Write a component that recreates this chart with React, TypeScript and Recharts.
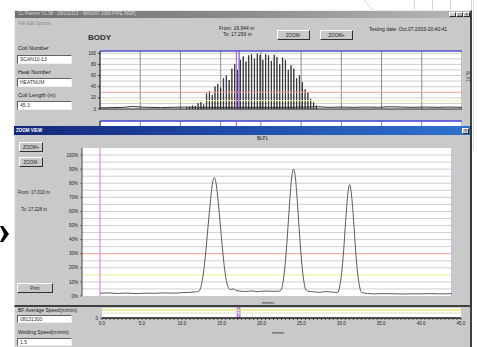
import React from 'react';
import {
  ComposedChart,
  LineChart,
  Line,
  Bar,
  XAxis,
  YAxis,
  CartesianGrid,
  ReferenceLine,
  ReferenceArea,
} from 'recharts';

// ---- data ----
const markerFrom = 16.944;
const markerTo = 17.293;

const lengthTicks = [0, 5, 10, 15, 20, 25, 30, 35, 40, 45];
const bodyYTicks = [0, 20, 40, 60, 80, 100];
const bodyGridY = [10, 20, 40, 50, 60, 70, 80, 90, 100];

// spikes in the BODY overview (position m, BLP1 level)
const spikePos = [
  10.8, 11.15, 11.5, 11.85, 12.2, 12.55, 12.9, 13.25, 13.6, 13.95, 14.3, 14.65, 15.0, 15.35, 15.7, 16.05,
  16.4, 16.75, 17.1, 17.45, 17.8, 18.15, 18.5, 18.85, 19.2, 19.55, 19.9, 20.25, 20.6, 20.95, 21.3, 21.65,
  22.0, 22.35, 22.7, 23.05, 23.4, 23.75, 24.1, 24.45, 24.8, 25.15, 25.5, 25.85, 26.2, 26.55, 26.9,
];
const spikeVal = [
  3, 4, 6, 5, 10, 12, 8, 28, 32, 25, 40, 45, 38, 55, 60, 52,
  72, 80, 70, 88, 94, 85, 96, 98, 90, 99, 97, 88, 98, 96, 86, 97,
  93, 80, 92, 88, 70, 78, 72, 55, 60, 48, 35, 30, 18, 12, 6,
];

// low background trace of the BODY overview
const bodyBasePos = [0, 1.5, 3, 4, 5, 6, 7.5, 9, 10.5, 12, 15, 18, 21, 24, 27, 28.5, 30, 31.5, 33, 34.5, 36, 37.5, 39, 40.5, 42, 43.5, 45];
const bodyBaseVal = [2, 2.5, 3, 4.5, 3.5, 3, 2.5, 3, 3.5, 3, 3, 3, 3, 3, 4, 3, 3.5, 3, 3.5, 3, 4, 3.5, 3, 3.5, 3, 3.5, 3];

// ZOOM VIEW trace (position m, BLP1 %)
const zoomPos = [
  17.0117, 17.017, 17.023, 17.029, 17.035, 17.041, 17.047, 17.053, 17.059, 17.065, 17.07, 17.0735,
  17.0754, 17.0767, 17.078, 17.0793, 17.0806, 17.0819, 17.0832, 17.0845, 17.0858, 17.0871, 17.0884,
  17.0897, 17.091, 17.0923, 17.0936, 17.0949, 17.0962, 17.098, 17.1, 17.102, 17.106, 17.11, 17.114,
  17.118, 17.122, 17.126, 17.1281, 17.1294, 17.1307, 17.132, 17.1333, 17.1346, 17.1359, 17.1372,
  17.1385, 17.1398, 17.1411, 17.1424, 17.1437, 17.145, 17.1463, 17.15, 17.154, 17.158, 17.162,
  17.1658, 17.1671, 17.1684, 17.1697, 17.171, 17.1723, 17.1736, 17.1749, 17.1762, 17.1775, 17.1788,
  17.1801, 17.1814, 17.185, 17.19, 17.196, 17.202, 17.208, 17.214, 17.22, 17.226, 17.232, 17.24,
];
const zoomVal = [
  2.0, 2.2, 1.8, 2.1, 1.7, 2.0, 1.9, 2.2, 2.0, 2.4, 2.6, 2.9,
  3.2, 5, 11, 21, 35, 51, 66, 79, 84, 79, 66,
  51, 35, 21, 11, 6, 4.5, 5, 4, 3.5, 3.2, 3.6, 3.1,
  3.5, 3.4, 3.3, 3.5, 5, 12, 25, 44, 65, 83, 90,
  83, 65, 44, 25, 12, 5, 3.5, 3.0, 2.6, 3.1, 2.8,
  2.5, 6.5, 16, 32, 53, 71, 79, 71, 53, 32, 16,
  6.5, 2.5, 1.8, 1.5, 1.7, 1.6, 1.4, 1.6, 1.5, 1.7, 1.5, 1.6,
];
const pctTicks = [0, 10, 20, 30, 40, 50, 60, 70, 80, 90, 100];
const pctGrid = [5, 10, 20, 25, 35, 40, 45, 50, 55, 60, 65, 70, 75, 80, 85, 90, 95, 100];

const redLevel = 30;
const yellowLevel = 15;

const bodyData = [
  ...spikePos.map((x, i) => ({ x, spike: spikeVal[i] })),
  ...bodyBasePos.map((x, i) => ({ x, base: bodyBaseVal[i] })),
].sort((a, b) => a.x - b.x);

const zoomData = zoomPos.map((x, i) => ({ x, v: zoomVal[i] }));
const stripData = [{ x: 0, v: 0 }, { x: 45, v: 0 }];
const stripTicks = Array.from({ length: 91 }, (_, i) => i * 0.5);

const FONT = '"Liberation Sans", Arial, sans-serif';
const GRAY = '#c9c9c9';

const T = ({ x, y, s = 5, bold = false, color = '#1a1a1a', children }: any) => (
  <div
    style={{
      position: 'absolute', left: x, top: y, fontSize: s, lineHeight: 1, whiteSpace: 'nowrap',
      fontWeight: bold ? 700 : 400, color,
    }}
  >
    {children}
  </div>
);

const Btn = ({ x, y, w, h, children }: any) => (
  <div
    style={{
      position: 'absolute', left: x, top: y, width: w, height: h, boxSizing: 'border-box', background: GRAY,
      borderTop: '1px solid #fff', borderLeft: '1px solid #fff', borderRight: '1px solid #303030',
      borderBottom: '1px solid #303030', fontSize: 4.5, display: 'flex', alignItems: 'center',
      justifyContent: 'center', color: '#222',
    }}
  >
    {children}
  </div>
);

const Field = ({ x, y, w = 55, h = 9, children }: any) => (
  <div
    style={{
      position: 'absolute', left: x, top: y, width: w, height: h, boxSizing: 'border-box', background: '#fff',
      borderTop: '1px solid #606060', borderLeft: '1px solid #606060', borderRight: '1px solid #eee',
      borderBottom: '1px solid #eee', fontSize: 5, paddingLeft: 2, lineHeight: `${h - 2}px`, color: '#333',
    }}
  >
    {children}
  </div>
);

const tickStyle = { fontSize: 4.5, fill: '#222', fontFamily: FONT };

export default function App() {
  return (
    <div
      style={{
        position: 'absolute', left: 0, top: 0, width: 477, height: 347, background: '#fff', overflow: 'hidden',
        fontFamily: FONT,
      }}
    >
      {/* page decoration */}
      <div style={{ position: 'absolute', left: 414, top: -2, width: 56, height: 11, border: '1px solid #d6d6d6' }} />
      <div style={{ position: 'absolute', left: 432, top: -2, width: 1, height: 12, background: '#d6d6d6' }} />
      <div style={{ position: 'absolute', left: 450, top: -2, width: 1, height: 12, background: '#d6d6d6' }} />
      <div style={{ position: 'absolute', left: 473, top: 0, width: 1, height: 150, background: '#dcdcdc' }} />
      <div
        style={{
          position: 'absolute', left: 360, top: -4, width: 1, height: 34, background: '#dcdcdc',
          transform: 'rotate(-40deg)', transformOrigin: 'top left',
        }}
      />
      <div
        style={{
          position: 'absolute', left: 0, top: 226, width: 9, height: 16, background: '#000',
          clipPath: 'polygon(0 0, 35% 0, 100% 50%, 35% 100%, 0 100%, 45% 50%)',
        }}
      />

      {/* main window */}
      <div
        style={{
          position: 'absolute', left: 14, top: 10, width: 458, height: 340, background: GRAY,
          boxSizing: 'border-box', borderLeft: '1px solid #eee', borderRight: '2px solid #404040',
          borderTop: '1px solid #eee',
        }}
      />
      <div
        style={{
          position: 'absolute', left: 15, top: 11, width: 455, height: 7,
          background: 'linear-gradient(90deg, #707070, #8c8c8c 50%, #b8b8b8)',
        }}
      />
      <T x={18} y={12} s={4.5} color="#d8d8d8">CL Planner V1.98 - [08131313 - WINSAT 2000 PIPE INSP]</T>
      <Btn x={449} y={12} w={7} h={5}>_</Btn>
      <Btn x={456} y={12} w={7} h={5}>□</Btn>
      <Btn x={463} y={12} w={7} h={5}>×</Btn>
      <T x={18} y={22} s={4.5} color="#8a8a8a">File   Edit   Options</T>

      <T x={88} y={34} s={8} bold color="#333">BODY</T>
      <T x={219} y={26} s={5}>From:  16.944 m</T>
      <T x={223} y={32} s={5}>To:  17.293 m</T>
      <Btn x={277} y={30} w={33} h={10}>ZOOM-</Btn>
      <Btn x={320} y={30} w={33} h={10}>ZOOM+</Btn>
      <T x={369} y={27} s={5}>Testing date:  Oct.07.2003-20:40:41</T>

      <T x={18} y={46} s={5.5}>Coil Number</T>
      <Field x={17} y={55}>SCAN10-13</Field>
      <T x={18} y={70} s={5.5}>Heat Number</T>
      <Field x={17} y={78}>HEATNUM</Field>
      <T x={18} y={93} s={5.5}>Coil Length (m)</T>
      <Field x={17} y={101}>45.3</Field>
      <div style={{ position: 'absolute', left: 462, top: 74, transform: 'rotate(90deg)', fontSize: 4.5, color: '#333' }}>
        BLP1
      </div>

      {/* BODY overview chart */}
      <div style={{ position: 'absolute', left: 70, top: 46 }}>
        <ComposedChart width={392} height={67} data={bodyData} margin={{ top: 5, right: 0, bottom: 4, left: 0 }}>
          <CartesianGrid horizontalValues={bodyGridY} vertical={false} stroke="#cfcfcf" fill="#fff" />
          <CartesianGrid verticalValues={lengthTicks} horizontal={false} stroke="#8c8c8c" />
          <XAxis type="number" dataKey="x" domain={[0, 45]} hide />
          <YAxis
            type="number" domain={[0, 104]} ticks={bodyYTicks} interval={0} width={30} tickSize={2}
            tick={tickStyle} axisLine={{ stroke: '#222' }} tickLine={{ stroke: '#222' }}
          />
          <ReferenceLine y={redLevel} stroke="#f0a0a0" />
          <ReferenceLine y={yellowLevel} stroke="#f0f0b0" />
          <Bar
            dataKey="spike" fill="#141414" stroke="#141414" strokeWidth={0.6} barSize={2}
            isAnimationActive={false}
          />
          <Line dataKey="base" stroke="#303030" strokeWidth={1} dot={false} connectNulls isAnimationActive={false} />
          <ReferenceLine y={104} stroke="#5050d0" strokeWidth={1.5} />
          <ReferenceLine x={markerFrom} stroke="#d040d0" />
          <ReferenceLine x={markerTo} stroke="#4848d0" />
          <ReferenceLine y={0} stroke="#222" />
        </ComposedChart>
      </div>

      {/* second overview strip (mostly hidden) */}
      <div style={{ position: 'absolute', left: 70, top: 116 }}>
        <LineChart width={392} height={22} data={stripData} margin={{ top: 5, right: 0, bottom: 0, left: 0 }}>
          <CartesianGrid horizontal={false} verticalValues={lengthTicks} stroke="#8c8c8c" fill="#fff" />
          <XAxis type="number" dataKey="x" domain={[0, 45]} hide />
          <YAxis
            type="number" domain={[0, 100]} ticks={[100]} width={30} tickSize={2} tick={tickStyle}
            axisLine={{ stroke: '#222' }}
          />
          <Line dataKey="v" stroke="#000" dot={false} isAnimationActive={false} />
          <ReferenceLine y={100} stroke="#4040d0" strokeWidth={1.5} />
          <ReferenceLine x={markerFrom} stroke="#d040d0" />
        </LineChart>
      </div>

      {/* ZOOM VIEW window */}
      <div
        style={{
          position: 'absolute', left: 14, top: 126, width: 458, height: 181, background: GRAY,
          boxSizing: 'border-box', borderRight: '2px solid #383838', borderBottom: '2px solid #404040',
          borderLeft: '1px solid #eee',
        }}
      />
      <div
        style={{
          position: 'absolute', left: 14, top: 126, width: 456, height: 9,
          background: 'linear-gradient(90deg, #14267a, #1f4aa8 45%, #2f72cc)',
        }}
      />
      <T x={16} y={128.5} s={4.5} bold color="#fff">ZOOM VIEW</T>
      <Btn x={462} y={127.5} w={7} h={6}>×</Btn>
      <Btn x={19} y={142} w={24} h={10}>ZOOM+</Btn>
      <Btn x={19} y={157} w={24} h={10}>ZOOM-</Btn>
      <T x={18} y={191} s={4.5}>From:   17.010 m</T>
      <T x={21} y={208} s={4.5}>To:   17.228 m</T>
      <Btn x={17} y={283} w={36} h={10}>Print</Btn>
      <T x={257} y={137} s={4.5}>BLP1</T>
      <T x={262} y={301} s={4}>metres</T>

      <div style={{ position: 'absolute', left: 48, top: 142 }}>
        <LineChart width={404} height={158} data={zoomData} margin={{ top: 6, right: 0, bottom: 4, left: 0 }}>
          <CartesianGrid horizontalValues={pctGrid} vertical={false} stroke="#cfcfcf" fill="#fff" />
          <XAxis type="number" dataKey="x" domain={[17.0, 17.24]} hide />
          <YAxis
            type="number" domain={[0, 105]} ticks={pctTicks} interval={0} width={34} tickSize={2}
            tick={tickStyle} tickFormatter={(v: number) => `${v}%`} axisLine={{ stroke: '#444' }}
          />
          <ReferenceLine y={redLevel} stroke="#f09a9a" />
          <ReferenceLine y={yellowLevel} stroke="#eeee88" />
          <ReferenceLine x={17.0117} stroke="#e070e0" />
          <ReferenceLine x={17.24} stroke="#b0a8f0" strokeWidth={1.5} />
          <Line type="monotone" dataKey="v" stroke="#5a5a5a" strokeWidth={1} dot={false} isAnimationActive={false} />
        </LineChart>
      </div>

      {/* lower panel */}
      <T x={18} y={308} s={5}>BF Average Speed(m/min)</T>
      <Field x={17} y={315} h={8}>08131300</Field>
      <T x={18} y={330} s={5}>Welding Speed(m/min)</T>
      <Field x={17} y={338} h={8}>1.5</Field>

      <div style={{ position: 'absolute', left: 70, top: 306 }}>
        <LineChart width={399} height={26} data={stripData} margin={{ top: 2, right: 8, bottom: 0, left: 0 }}>
          <CartesianGrid vertical={false} horizontal={false} fill="#fff" />
          <XAxis
            type="number" dataKey="x" domain={[0, 45]} ticks={stripTicks} interval={0} height={14} tickSize={2}
            tick={tickStyle} tickFormatter={(v: number) => (v % 5 === 0 ? v.toFixed(1) : '')}
            axisLine={{ stroke: '#222' }} tickLine={{ stroke: '#444' }}
          />
          <YAxis type="number" domain={[0, 10]} ticks={[0]} width={32} tickSize={2} tick={tickStyle} axisLine={false} />
          <ReferenceLine y={8} stroke="#e6e67a" strokeWidth={1.5} />
          <ReferenceLine y={5} stroke="#d6ecc0" />
          <ReferenceArea x1={markerFrom} x2={markerTo} y1={0} y2={10} fill="#e0c0f4" stroke="#a050e0" fillOpacity={1} />
          <Line dataKey="v" stroke="#000" dot={false} isAnimationActive={false} />
        </LineChart>
      </div>
      <T x={272} y={331} s={4}>metres</T>
    </div>
  );
}
